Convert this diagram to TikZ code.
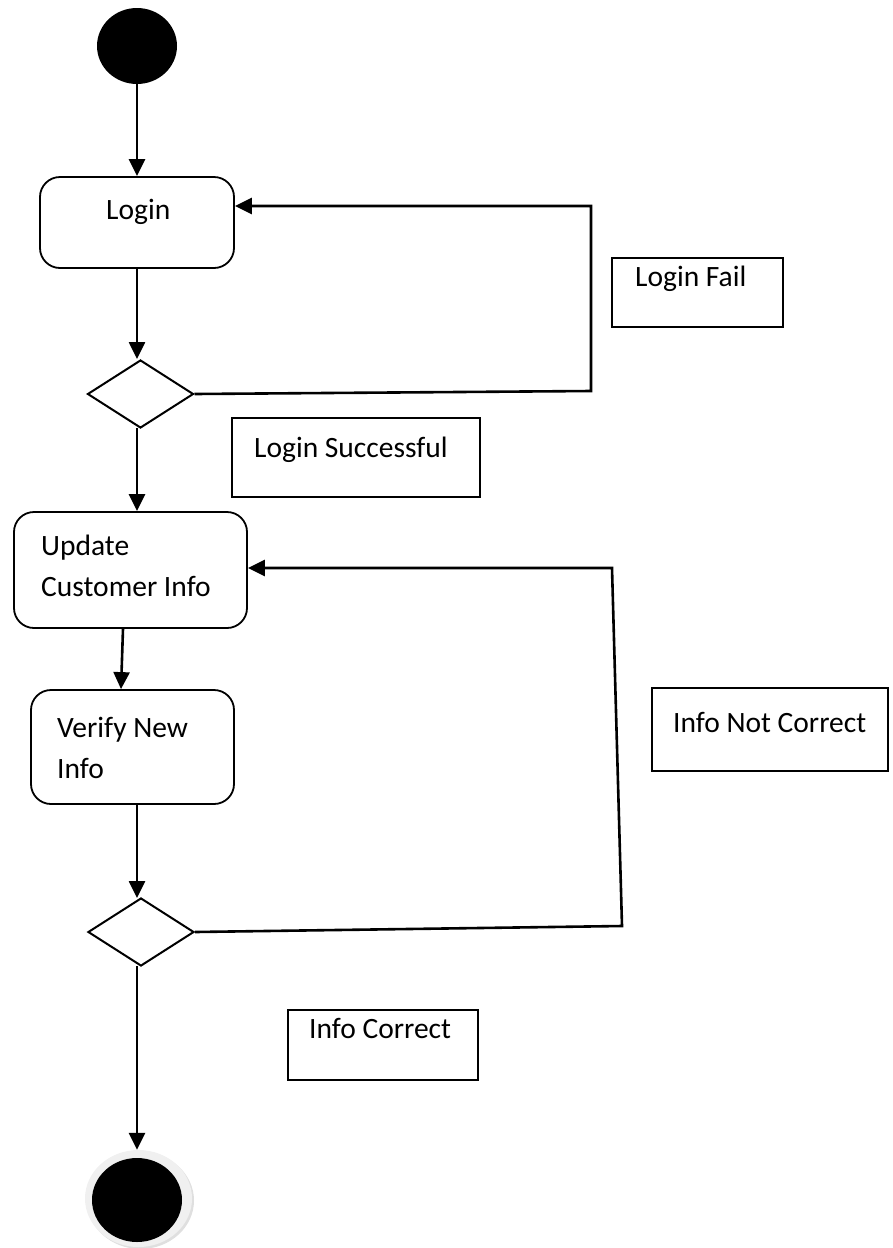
\documentclass[tikz,border=0pt]{standalone}
\usepackage{fontspec}
\setmainfont{Carlito}
\usetikzlibrary{arrows.meta,shapes.geometric,shadows}
\tikzset{
  conn/.style={line width=2.6pt,-{Triangle[length=17pt,width=16pt]}},
  act/.style={draw,line width=1.8pt,rounded corners=20pt,rectangle,inner sep=0pt},
  note/.style={draw,line width=1.8pt,rectangle,inner sep=0pt},
  dec/.style={draw,line width=2pt,diamond,inner sep=0pt,minimum width=106pt,minimum height=68pt,aspect=1.56},
  lbl/.style={font=\fontsize{29.5}{41}\selectfont,inner sep=0pt,anchor=base west},
}
\begin{document}
\begin{tikzpicture}[x=1pt,y=-1pt]
\useasboundingbox (0,0) rectangle (893,1248);
% start
\node[ellipse,fill=black,minimum width=80pt,minimum height=76pt,inner sep=0pt] (start) at (137,46) {};
% Login
\node[act,minimum width=194pt,minimum height=91pt] (login) at (137,222.5) {};
\node[lbl] (logintxt) at (106,219) {Login};
% decision 1
\node[dec] (d1) at (140.5,394) {};
% notes
\node[note,minimum width=171pt,minimum height=69pt] (lfail) at (697.5,292.5) {};
\node[lbl] (lfailtxt) at (635,286) {Login Fail};
\node[note,minimum width=248pt,minimum height=79pt] (lsucc) at (356,457.5) {};
\node[lbl] (lsucctxt) at (254,457) {Login Successful};
% Update
\node[act,minimum width=233pt,minimum height=116pt] (upd) at (130.5,570) {};
\node[lbl,align=left] (updtxt) at (41,596) {Update\\Customer Info};
% Verify
\node[act,minimum width=203pt,minimum height=114pt] (ver) at (132.5,747) {};
\node[lbl,align=left] (vertxt) at (57,778) {Verify New\\Info};
\node[note,minimum width=236pt,minimum height=83pt] (inc) at (770,729.5) {};
\node[lbl] (inctxt) at (673,732) {Info Not Correct};
% decision 2
\node[dec] (d2) at (141,932) {};
\node[note,minimum width=190pt,minimum height=70pt] (ic) at (383,1045) {};
\node[lbl] (ictxt) at (309,1038) {Info Correct};
% end
\node[ellipse,fill=gray!12,minimum width=107pt,minimum height=97pt,inner sep=0pt,
      drop shadow={opacity=0.25,shadow xshift=2pt,shadow yshift=-2pt}] (endo) at (138.5,1198.5) {};
\node[ellipse,fill=black,minimum width=90pt,minimum height=84pt,inner sep=0pt] (endi) at (137,1200) {};
% connectors
\draw[conn] (start.south) -- (login.north);
\draw[conn] (login.south) -- (login.south |- d1.north);
\coordinate (c1) at (591,391);
\coordinate (c2) at (591,206);
\draw[conn] (d1.east) -- (c1) -- (c2) -- (login.east |- c2);
\coordinate (d1b) at (137,428);
\draw[conn] (d1b) -- (upd.north -| d1b);
\draw[conn] (upd.south -| 123,0) -- (ver.north -| 121,0);
\draw[conn] (ver.south -| 137,0) -- (137,898);
\coordinate (c3) at (622,926);
\coordinate (c4) at (612,568);
\draw[conn] (d2.east) -- (c3) -- (c4) -- (upd.east |- c4);
\coordinate (d2b) at (137,966);
\draw[conn] (d2b) -- (endo.north -| d2b);
\end{tikzpicture}
\end{document}
